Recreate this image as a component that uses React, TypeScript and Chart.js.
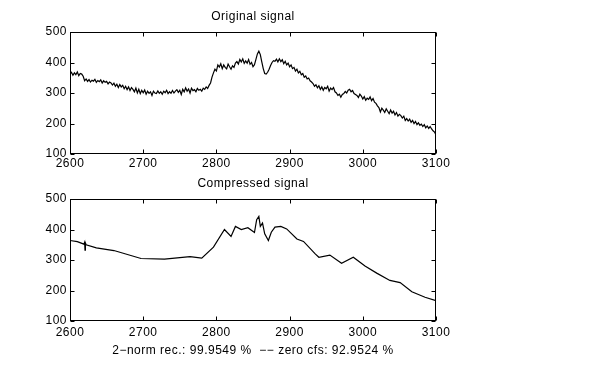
import React, { useEffect, useRef } from "react";
import { Chart, registerables } from "chart.js";

Chart.register(...registerables);

// ---- data ----
const X_MIN = 2600;
const X_MAX = 3100;
const Y_MIN = 100;
const Y_MAX = 500;
const xTicks = [2600, 2700, 2800, 2900, 3000, 3100];
const yTicks = [100, 200, 300, 400, 500];
const xTickLabels = ["2600", "2700", "2800", "2900", "3000", "3100"];
const yTickLabels = ["100", "200", "300", "400", "500"];

const topTitle = "Original signal";
const bottomTitle = "Compressed signal";
const bottomXLabel = "2\u2212norm rec.: 99.9549 %  \u2212\u2212 zero cfs: 92.9524 %";

// original signal sampled every 2 units starting at 2600
const originalStart = 2600;
const originalStep = 2;
const originalSignal = [
  362, 368, 358, 366, 360, 369, 357, 364, 362, 355,
  340, 346, 338, 344, 336, 342, 339, 345, 335, 341,
  337, 343, 333, 340, 335, 338, 330, 336, 333, 326,
  332, 322, 329, 318, 328, 320, 325, 314, 322, 311,
  320, 308, 318, 312, 304, 316, 300, 312, 298, 309,
  301, 310, 296, 306, 299, 304, 292, 306, 300, 298,
  307, 299, 304, 296, 306, 301, 309, 298, 304, 299,
  308, 300, 306, 311, 302, 309, 295, 312, 304, 317,
  306, 313, 300, 316, 308, 311, 304, 315, 309, 312,
  306, 316, 312, 320, 315, 325, 333, 352, 366, 378,
  372, 392, 385, 396, 380, 392, 384, 379, 395, 386,
  378, 389, 384, 398, 403, 395, 410, 402, 412, 397,
  405, 398, 410, 394, 400, 386, 393, 410, 428, 437,
  426, 402, 380, 364, 362, 368, 378, 390, 400, 406,
  404, 411, 402, 412, 403, 409, 396, 404, 392, 398,
  386, 392, 380, 384, 372, 378, 366, 371, 360, 364,
  352, 356, 346, 349, 340, 336, 331, 322, 327, 317,
  324, 312, 320, 309, 318, 314, 322, 306, 316, 311,
  318, 304, 300, 292, 296, 286, 295, 298, 305, 300,
  309, 312, 304, 308, 298, 295, 292, 285, 296, 290,
  280, 288, 276, 283, 279, 287, 275, 282, 270, 266,
  258, 252, 238, 250, 244, 236, 248, 240, 232, 244,
  234, 240, 228, 236, 224, 230, 226, 218, 224, 210,
  216, 208, 214, 204, 210, 200, 207, 196, 202, 194,
  198, 190, 196, 186, 192, 184, 190, 182, 176, 172,
  162,
];

const compressedX = [
  2600, 2610, 2619, 2620, 2620.5, 2621, 2622, 2636, 2660, 2697, 2729, 2764,
  2780, 2796, 2811, 2820, 2826, 2834, 2843, 2852, 2855, 2858, 2860, 2863,
  2866, 2871, 2875, 2880, 2888, 2896, 2910, 2919, 2935, 2940, 2955, 2971,
  2987, 3003, 3019, 3037, 3051, 3067, 3085, 3100,
];
const compressedY = [
  364, 360, 352, 358, 332, 356, 350, 340, 331, 305, 303, 311,
  306, 342, 400, 377, 410, 400, 406, 390, 432, 443, 410, 421,
  386, 364, 391, 408, 410, 402, 369, 361, 320, 309, 316, 289,
  309, 280, 257, 233, 226, 196, 178, 167,
];

// ---- drawing ----
const FONT_FAMILY = '"Liberation Sans", Arial, Helvetica, sans-serif';

const matlabAxes = {
  id: "matlabAxes",
  afterDraw(chart: any, _args: any, opts: any) {
    const { ctx, chartArea: a, scales } = chart;
    ctx.save();
    ctx.strokeStyle = "#000";
    ctx.lineWidth = 1;
    const L = Math.round(a.left) + 0.5;
    const R = Math.round(a.right) - 0.5;
    const T = Math.round(a.top) + 0.5;
    const B = Math.round(a.bottom) - 0.5;
    ctx.strokeRect(L, T, R - L, B - T);
    const tl = 4;
    ctx.beginPath();
    for (const v of xTicks) {
      const x = Math.round(scales.x.getPixelForValue(v)) + 0.5;
      ctx.moveTo(x, B);
      ctx.lineTo(x, B - tl);
      ctx.moveTo(x, T);
      ctx.lineTo(x, T + tl);
    }
    for (const v of yTicks) {
      const y = Math.round(scales.y.getPixelForValue(v)) + 0.5;
      ctx.moveTo(L, y);
      ctx.lineTo(L + tl, y);
      ctx.moveTo(R, y);
      ctx.lineTo(R - tl, y);
    }
    ctx.stroke();

    ctx.fillStyle = "#000";
    ctx.font = "12px " + FONT_FAMILY;
    try {
      (ctx as any).letterSpacing = "0.5px";
    } catch (e) {}
    ctx.textAlign = "center";
    ctx.textBaseline = "middle";
    xTicks.forEach((v, i) => {
      ctx.fillText(xTickLabels[i], scales.x.getPixelForValue(v), a.bottom + opts.xLabelGap);
    });
    ctx.textAlign = "right";
    yTicks.forEach((v, i) => {
      ctx.fillText(yTickLabels[i], a.left - 3, scales.y.getPixelForValue(v));
    });
    ctx.textAlign = "center";
    const cx = (a.left + a.right) / 2;
    if (opts.title) ctx.fillText(opts.title, cx, a.top - 15);
    if (opts.xlabel) ctx.fillText(opts.xlabel, cx, a.bottom + 30);
    ctx.restore();
  },
};

type PlotProps = {
  points: { x: number; y: number }[];
  title: string;
  xlabel?: string;
  top: number;
  height: number;
  padTop: number;
  xScaleHeight: number;
  xLabelGap: number;
};

function Plot({ points, title, xlabel, top, height, padTop, xScaleHeight, xLabelGap }: PlotProps) {
  const ref = useRef<HTMLCanvasElement | null>(null);
  useEffect(() => {
    if (!ref.current) return;
    const chart = new Chart(ref.current, {
      type: "line",
      data: {
        datasets: [
          {
            data: points,
            borderColor: "#000",
            borderWidth: 1.2,
            pointRadius: 0,
            tension: 0,
            fill: false,
          },
        ],
      },
      plugins: [matlabAxes as any],
      options: {
        responsive: false,
        animation: false,
        devicePixelRatio: 1,
        layout: { padding: { left: 0, right: 163, top: padTop, bottom: 0 } },
        plugins: {
          legend: { display: false },
          tooltip: { enabled: false },
          title: { display: false },
          matlabAxes: { title, xlabel, xLabelGap },
        } as any,
        scales: {
          x: {
            type: "linear",
            min: X_MIN,
            max: X_MAX,
            grid: { display: false },
            border: { display: false },
            afterFit: (s: any) => {
              s.height = xScaleHeight;
            },
            ticks: { display: false, stepSize: 100 },
          },
          y: {
            type: "linear",
            min: Y_MIN,
            max: Y_MAX,
            grid: { display: false },
            border: { display: false },
            afterFit: (s: any) => {
              s.width = 70;
            },
            ticks: { display: false, stepSize: 100 },
          },
        },
      },
    });
    return () => chart.destroy();
  }, []);
  return (
    <canvas
      ref={ref}
      width={599}
      height={height}
      style={{ position: "absolute", left: 0, top, width: 599, height }}
    />
  );
}

export default function App() {
  const originalPoints = originalSignal.map((y, i) => ({ x: originalStart + i * originalStep, y }));
  const compressedPoints = compressedX.map((x, i) => ({ x, y: compressedY[i] }));
  return (
    <div style={{ position: "fixed", left: 0, top: 0, width: 599, height: 365, background: "#fff" }}>
      <Plot
        points={originalPoints}
        title={topTitle}
        top={0}
        height={182}
        padTop={32}
        xScaleHeight={28}
        xLabelGap={10}
      />
      <Plot
        points={compressedPoints}
        title={bottomTitle}
        xlabel={bottomXLabel}
        top={170}
        height={195}
        padTop={29}
        xScaleHeight={44}
        xLabelGap={12}
      />
    </div>
  );
}
